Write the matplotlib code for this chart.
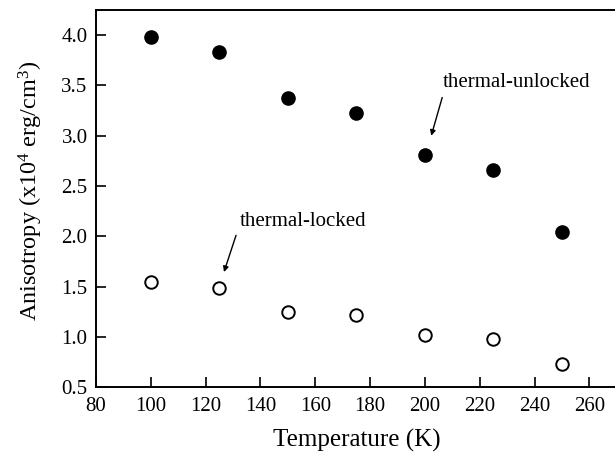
import matplotlib
matplotlib.use("Agg")
import matplotlib.pyplot as plt

temps = [100, 125, 150, 175, 200, 225, 250]
unlocked = [3.98, 3.83, 3.38, 3.23, 2.81, 2.66, 2.04]
locked = [1.55, 1.49, 1.25, 1.22, 1.02, 0.98, 0.73]

plt.rcParams['font.family'] = ['Liberation Serif', 'DejaVu Serif']
plt.rcParams['mathtext.fontset'] = 'custom'
plt.rcParams['mathtext.rm'] = 'Liberation Serif'

fig = plt.figure(figsize=(6.15, 4.55), dpi=100)
ax = fig.add_axes([0.156, 0.149, 0.847, 0.829])

ax.plot(temps, unlocked, 'o', color='black', markersize=9.5)
ax.plot(temps, locked, 'o', markerfacecolor='white', markeredgecolor='black',
        markersize=9, markeredgewidth=1.4)

arrow = dict(arrowstyle='-|>', color='black', lw=1, shrinkA=0, shrinkB=0, mutation_scale=8)
ax.text(206.6, 3.53, 'thermal-unlocked', fontsize=15, va='center', ha='left')
ax.annotate('', xy=(202.3, 3.0), xytext=(206.3, 3.38), arrowprops=arrow)
ax.text(132.6, 2.15, 'thermal-locked', fontsize=15, va='center', ha='left')
ax.annotate('', xy=(126.7, 1.645), xytext=(131.1, 2.01), arrowprops=arrow)

ax.set_xlim(80, 270)
ax.set_ylim(0.5, 4.25)
ax.set_xticks(range(80, 261, 20))
ax.set_yticks([0.5, 1.0, 1.5, 2.0, 2.5, 3.0, 3.5, 4.0])
ax.set_yticklabels(['0.5', '1.0', '1.5', '2.0', '2.5', '3.0', '3.5', '4.0'])
ax.tick_params(direction='in', length=7, width=1.2, labelsize=15)
ax.tick_params(axis='y', pad=6)
ax.tick_params(axis='x', pad=7)
for s in ax.spines.values():
    s.set_linewidth(1.4)

ax.set_xlabel('Temperature (K)', fontsize=18, va='center')
ax.xaxis.set_label_coords(0.5, -0.14)
ax.set_ylabel(r'Anisotropy (x10$\mathregular{^4}$ erg/cm$\mathregular{^3}$)', fontsize=17.5, va='center')
ax.yaxis.set_label_coords(-0.125, 0.52)

fig.savefig('out.png', dpi=100)
